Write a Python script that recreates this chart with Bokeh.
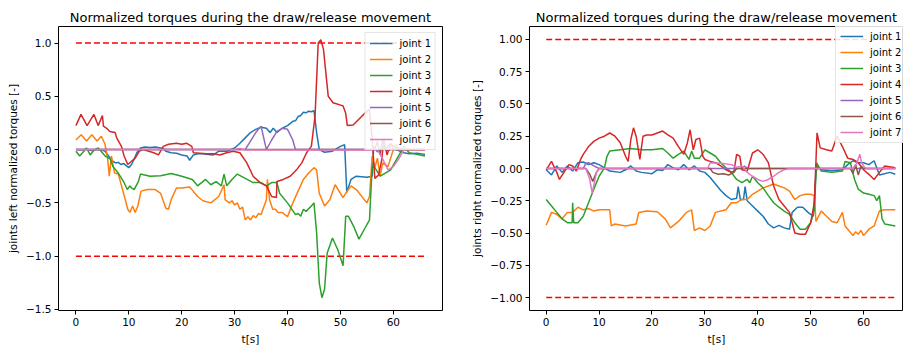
from bokeh.plotting import figure
from bokeh.layouts import row
from bokeh.models import ColumnDataSource, FixedTicker, Range1d, Legend, LegendItem
from bokeh.embed import file_html
from bokeh.resources import INLINE

# ---------------- data: (time [s], normalized torque) ----------------
# left arm
left_j1 = [(0, 0), (1, -0.005), (2, 0.005), (3, -0.01), (4, 0.0), (5, -0.005), (5.5, -0.015), (6.5, -0.08),
           (7.0, -0.11), (7.5, -0.125), (8.0, -0.12), (8.5, -0.14), (9.0, -0.13), (9.5, -0.15), (10.0, -0.17),
           (10.5, -0.14), (11.0, -0.09), (11.5, -0.03), (12.2, 0.015), (13, 0.025), (14, 0.02), (15, 0.025),
           (16, 0.015), (16.5, 0.01), (17, -0.015), (18, -0.03), (19, -0.035), (20, -0.05), (21, -0.06),
           (21.5, -0.1), (22.2, -0.05), (23, -0.04), (24, -0.04), (25, -0.045), (26, -0.05), (27, -0.015),
           (28.5, -0.015), (30, 0.015), (31, 0.06), (32, 0.11), (33, 0.16), (34, 0.19), (35, 0.21), (36, 0.2),
           (36.7, 0.16), (37.3, 0.2), (38, 0.16), (39, 0.2), (40, 0.225), (41, 0.265), (41.5, 0.27), (42, 0.31),
           (42.5, 0.32), (43, 0.35), (43.5, 0.345), (44, 0.36), (44.5, 0.355), (45, 0.365), (45.5, 0.16),
           (46, 0.0), (47, -0.025), (48.5, -0.015), (50, 0.03), (50.8, 0.045), (51.2, -0.4), (52, -0.28),
           (53, -0.25), (55, -0.26), (56, -0.25), (56.3, 0.03), (57, -0.02), (58, 0.02), (59, -0.01),
           (60, 0.01), (61, -0.01), (62, -0.03), (63, -0.04), (64.5, -0.035), (66, -0.045)]
left_j2 = [(0, 0.09), (1, 0.14), (2, 0.08), (3, 0.14), (4, 0.08), (4.8, 0.125), (5.5, 0.05), (6, -0.09),
           (6.3, -0.25), (6.7, -0.06), (7.3, -0.22), (8, -0.23), (9, -0.41), (9.8, -0.56), (10.2, -0.59),
           (10.7, -0.53), (11.2, -0.59), (11.7, -0.53), (12.3, -0.39), (13.5, -0.375), (15, -0.375),
           (16, -0.41), (17, -0.55), (17.5, -0.56), (18, -0.47), (19, -0.36), (20, -0.36), (21.5, -0.35),
           (23, -0.44), (24, -0.48), (25.5, -0.5), (27, -0.44), (28, -0.33), (28.2, -0.47), (29, -0.5),
           (29.5, -0.48), (30, -0.52), (30.5, -0.5), (31, -0.56), (31.5, -0.54), (32, -0.66), (32.5, -0.63),
           (33, -0.66), (33.5, -0.62), (34, -0.64), (34.5, -0.6), (35, -0.61), (36, -0.47), (36.2, -0.28),
           (36.6, -0.47), (37.2, -0.56), (37.7, -0.56), (38.2, -0.59), (39, -0.59), (40, -0.63), (41, -0.5),
           (42, -0.39), (43, -0.28), (44, -0.22), (45, -0.17), (45.5, -0.19), (46, -0.41), (47, -0.53),
           (48, -0.47), (49, -0.33), (50.5, -0.45), (51, -0.41), (52, -0.34), (53, -0.375), (55, -0.5),
           (55.5, -0.44), (56, -0.06), (56.5, -0.17), (57, -0.08), (57.5, -0.25), (58, -0.125), (59, -0.16),
           (60, 0.0), (60.5, 0.05), (61, 0.0), (63, 0.0), (66, 0.0)]
left_j3 = [(0, -0.015), (0.7, -0.06), (1.5, -0.015), (2, 0.015), (2.7, -0.05), (3.5, 0.0), (4.2, 0.015),
           (5, -0.03), (5.5, -0.06), (6.5, -0.09), (7, -0.16), (8, -0.22), (9, -0.3), (9.7, -0.375),
           (10.2, -0.34), (10.5, -0.36), (11, -0.375), (11.8, -0.3), (12.2, -0.23), (14, -0.25), (16, -0.245),
           (18, -0.225), (20, -0.25), (22, -0.28), (23, -0.34), (24.5, -0.28), (25.5, -0.33), (26.5, -0.3),
           (27.5, -0.34), (28, -0.23), (28.5, -0.34), (29.5, -0.28), (30.5, -0.23), (32, -0.27), (33.5, -0.31),
           (35, -0.31), (36, -0.34), (37, -0.31), (38, -0.31), (38.5, -0.41), (40, -0.5), (41.5, -0.61),
           (42, -0.6), (42.5, -0.625), (43, -0.56), (43.5, -0.58), (44.5, -0.53), (45, -0.5), (45.5, -0.78),
           (46, -1.25), (46.5, -1.39), (47, -1.31), (47.5, -0.97), (48.5, -0.83), (49.5, -0.94), (50.5, -1.09),
           (51, -0.625), (51.5, -0.625), (52.5, -0.72), (53.5, -0.84), (54.5, -0.75), (55.5, -0.66),
           (56, -0.16), (56.5, -0.17), (57.5, -0.25), (58.5, -0.22), (59.5, -0.19), (61, -0.06), (62, 0.03),
           (63, -0.03), (66, -0.06)]
left_j4 = [(0, 0.225), (0.95, 0.33), (2.1, 0.225), (3.4, 0.33), (4.2, 0.225), (5.0, 0.32), (5.2, 0.22),
           (5.8, 0.2), (6.4, 0.17), (7.4, 0.16), (7.7, 0.11), (8.6, 0.03), (9.1, -0.06), (9.8, -0.14),
           (10.5, -0.11), (11.2, -0.08), (12.0, -0.015), (12.7, 0.0), (14.7, -0.03), (15.6, -0.05),
           (16.5, 0.03), (17.5, 0.05), (19.0, 0.06), (20.0, 0.05), (20.9, 0.06), (21.9, 0.03), (22.2, -0.03),
           (24.7, -0.04), (26, -0.04), (27.2, -0.05), (28.5, -0.03), (29.7, -0.015), (31, -0.03),
           (32.3, -0.125), (33.5, -0.25), (34.8, -0.31), (36, -0.34), (37, -0.44), (37.9, -0.45), (38, -0.3),
           (39.2, -0.28), (40.5, -0.25), (41.7, -0.19), (42.7, -0.125), (43.6, -0.03), (44.5, 0.03),
           (45.2, 0.31), (45.8, 1.0), (46.3, 1.03), (46.8, 0.94), (47.7, 0.5), (48.6, 0.44), (50.5, 0.41),
           (51, 0.34), (51.3, 0.225), (52.4, 0.23), (54, 0.31), (54.6, 0.34), (55.5, 0.38), (56.0, 0.1),
           (56.5, -0.27), (57.2, -0.24), (57.8, -0.1), (58.2, 0.1), (58.8, -0.05), (59.5, 0.05), (60.5, 0.02),
           (62, 0.0), (66, 0.0)]
left_j5 = [(0, 0.0), (32, 0.0), (33, 0.08), (34, 0.16), (35, 0.22), (36, 0.0), (37, 0.09), (38, 0.17),
           (39, 0.2), (40, 0.19), (41, 0.09), (41.5, 0.0), (66, 0.0)]
left_j6 = [(0, 0.0), (56.5, 0.0), (57, 0.08), (57.5, -0.05), (58, 0.1), (58.5, 0.0), (59.5, 0.06),
           (60, 0.0), (66, 0.0)]
left_j7 = [(0, 0.0), (30, 0.0), (31, 0.01), (32, -0.003), (45, -0.005), (55, -0.003), (57, 0.0),
           (58, -0.09), (59, -0.19), (60, -0.16), (61, -0.09), (62, 0.0), (66, 0.0)]

# right arm
right_j1 = [(0, -0.01), (1, -0.05), (2, 0.02), (3, -0.03), (4, 0.02), (5, -0.02), (6, 0.045), (7, 0.05),
            (8, 0.03), (9, 0.045), (10, 0.03), (11, 0.005), (12, -0.02), (14, -0.03), (15, -0.01), (16, 0.02),
            (17, -0.02), (18, -0.03), (20, -0.04), (21, -0.01), (22, -0.015), (23, 0.03), (24, 0.005),
            (25, -0.01), (26, 0.03), (27, -0.01), (28, 0.02), (29, -0.02), (30, -0.03), (31, -0.07),
            (32, -0.12), (33, -0.17), (34, -0.21), (35, -0.24), (36, -0.23), (36.3, -0.14), (36.7, -0.24),
            (37.3, -0.24), (37.6, -0.14), (38, -0.25), (39, -0.29), (40, -0.33), (41, -0.37), (42, -0.43),
            (43, -0.46), (44, -0.44), (45, -0.46), (46, -0.47), (46.5, -0.34), (47.5, -0.3), (48.5, -0.3),
            (49.5, -0.34), (50.5, -0.37), (51, -0.03), (51.3, 0.02), (52, -0.01), (54, -0.02), (56, -0.01),
            (57, 0.03), (58, 0.06), (59, 0.045), (60, 0.045), (61, 0.03), (62, 0.06), (63, -0.05),
            (65, -0.03), (66, -0.045)]
right_j2 = [(0, -0.44), (1, -0.34), (2, -0.355), (3, -0.39), (4, -0.34), (5, -0.34), (6, -0.3), (7, -0.32),
            (8, -0.31), (9, -0.33), (10, -0.32), (11, -0.32), (12, -0.32), (12.3, -0.445), (13, -0.43),
            (15, -0.445), (17, -0.43), (17.5, -0.34), (19, -0.33), (21, -0.335), (22.5, -0.39), (23.5, -0.46),
            (25, -0.41), (26.5, -0.34), (27.5, -0.32), (28, -0.48), (29, -0.46), (30, -0.48), (31, -0.445),
            (32, -0.34), (33, -0.33), (34, -0.32), (35, -0.265), (36, -0.265), (37, -0.24), (38, -0.24),
            (39, -0.2), (40, -0.175), (41, -0.15), (42, -0.136), (43, -0.12), (44, -0.136), (45, -0.15),
            (46, -0.175), (47, -0.24), (48, -0.21), (49, -0.2), (50, -0.2), (50.7, -0.21), (51, -0.41),
            (52, -0.33), (53, -0.37), (54, -0.41), (55, -0.42), (56, -0.34), (56.5, -0.445), (57, -0.47),
            (58, -0.52), (58.5, -0.49), (59, -0.51), (59.5, -0.48), (60, -0.52), (61, -0.47), (62, -0.445),
            (63, -0.33), (64, -0.32), (66, -0.32)]
right_j3 = [(0, -0.24), (1, -0.29), (2, -0.34), (3, -0.39), (4, -0.42), (4.9, -0.42), (5.0, -0.265),
            (5.2, -0.42), (6, -0.42), (7, -0.37), (8, -0.265), (9, -0.16), (10, -0.06), (11, 0.005),
            (11.5, 0.095), (12, 0.135), (14, 0.145), (16, 0.155), (18, 0.145), (20, 0.145), (22, 0.155),
            (23, 0.12), (24, 0.08), (25, 0.11), (26, 0.135), (27, 0.07), (27.5, 0.135), (28, 0.08), (29, 0.08),
            (30, 0.145), (31, 0.12), (32, 0.095), (33, 0.045), (34, 0.005), (35, -0.03), (36, -0.085),
            (37, -0.11), (38, -0.085), (38.5, -0.11), (39, -0.06), (40, -0.11), (41, -0.15), (42, -0.21),
            (43, -0.265), (44, -0.3), (45, -0.33), (46, -0.355), (47, -0.42), (48, -0.47), (49, -0.47),
            (50, -0.42), (50.7, -0.32), (51.1, 0.045), (52, -0.02), (54, -0.03), (56, -0.02), (56.5, 0.055),
            (57.5, 0.045), (58.3, -0.085), (59, -0.16), (60, -0.19), (61, -0.2), (62, -0.21), (62.5, -0.25),
            (63, -0.21), (63.5, -0.39), (64, -0.43), (66, -0.445)]
right_j4 = [(0, -0.01), (1, 0.055), (2, -0.03), (2.5, -0.085), (3.5, -0.02), (4.3, 0.03), (5, 0.02),
            (5.7, -0.02), (6.5, 0.07), (7, 0.11), (8, 0.17), (9, 0.21), (10, 0.235), (11, 0.25), (12, 0.275),
            (13, 0.25), (14, 0.2), (15, 0.095), (15.5, 0.055), (16, 0.225), (16.5, 0.315), (17, 0.25),
            (17.7, 0.07), (18.3, 0.25), (19, 0.26), (20, 0.26), (21, 0.275), (22, 0.29), (23, 0.26),
            (24, 0.235), (25, 0.17), (26, 0.11), (26.7, 0.2), (27.2, 0.3), (27.8, 0.145), (28.3, 0.225),
            (29, 0.235), (29.6, 0.095), (30, 0.07), (31, 0.055), (32, 0.045), (33, 0.02), (34, -0.01),
            (35, -0.03), (35.5, -0.02), (36, 0.11), (36.6, 0.095), (37, -0.01), (38, -0.02), (39, 0.12),
            (40, 0.145), (41, 0.11), (42, 0.045), (43, -0.136), (44, -0.24), (45, -0.29), (46, -0.34),
            (47, -0.5), (48, -0.51), (49, -0.51), (50, -0.42), (50.7, -0.265), (51.2, 0.275), (51.8, 0.16),
            (53, 0.145), (54, 0.135), (55, 0.25), (56, 0.17), (57, 0.08), (58, 0.07), (59, 0.045), (60, -0.01),
            (61, -0.045), (62, -0.085), (63, -0.03), (64, 0.02), (66, 0.005)]
right_j5 = [(0, 0.0), (7, 0.0), (7.5, 0.04), (8, 0.045), (9, 0.02), (10, 0.0), (37, 0.0), (37.5, 0.02),
            (38, 0.0), (66, 0.0)]
right_j6 = [(0, 0.0), (7.5, 0.0), (8.3, -0.05), (8.8, -0.1), (9.5, -0.03), (10, 0.0), (31, 0.0),
            (31.5, -0.03), (32.5, -0.045), (33.5, -0.04), (34.5, -0.05), (35.5, -0.03), (36, 0.0),
            (57.5, 0.0), (58, -0.04), (58.5, 0.03), (59, -0.05), (59.5, 0.02), (60, 0.0), (66, 0.0)]
right_j7 = [(0, 0.0), (7.5, 0.0), (8.2, -0.08), (8.7, -0.19), (9.2, -0.09), (9.5, -0.03), (10, 0.0),
            (30.5, 0.0), (31, 0.045), (33, 0.04), (35, 0.03), (36, 0.01), (37, 0.02), (38, -0.03),
            (39, -0.06), (40, -0.085), (41, -0.1), (42, -0.085), (43, -0.06), (44, -0.03), (45, -0.01),
            (46, 0.0), (58, 0.0), (58.7, 0.04), (59.3, 0.11), (59.6, 0.05), (60, 0.02), (60.5, 0.0), (66, 0.0)]

LIMIT = [1.0, -1.0]
LIMIT_T = [0, 66]
JOINT_LABELS = ["joint 1", "joint 2", "joint 3", "joint 4", "joint 5", "joint 6", "joint 7"]
COLORS = ["#1f77b4", "#ff7f0e", "#2ca02c", "#d62728", "#9467bd", "#8c564b", "#e377c2"]
X_TICKS = [0, 10, 20, 30, 40, 50, 60]
LEFT_Y_TICKS = [1.0, 0.5, 0.0, -0.5, -1.0, -1.5]
RIGHT_Y_TICKS = [1.0, 0.75, 0.5, 0.25, 0.0, -0.25, -0.5, -0.75, -1.0]

FONT = "DejaVu Sans"
TITLE = "Normalized torques during the draw/release movement"


def fmt(v, digits):
    s = f"{abs(v):.{digits}f}"
    return ("\u2212" + s) if v < 0 else s


def make_panel(series, ylabel, yticks, digits, width, x_range, y_range, border_left, border_right, legend_loc):
    p = figure(width=width, height=347, output_backend="svg", toolbar_location=None,
               x_range=Range1d(*x_range), y_range=Range1d(*y_range),
               min_border_left=border_left, min_border_right=border_right,
               min_border_top=26, min_border_bottom=35, background_fill_color="white",
               border_fill_color="white")
    p.title.text = TITLE
    p.title.align = "center"
    p.title.text_font = FONT
    p.title.text_font_size = "13px"
    p.title.text_font_style = "normal"
    p.title.text_color = "#000000"
    p.title.standoff = 3

    p.grid.visible = False
    p.outline_line_color = "#000000"
    p.outline_line_width = 1
    p.outline_line_alpha = 1.0

    for ax in (p.xaxis[0], p.yaxis[0]):
        ax.axis_line_color = None
        ax.major_tick_out = 4
        ax.major_tick_in = 0
        ax.minor_tick_line_color = None
        ax.major_tick_line_color = "#000000"
        ax.major_label_text_font = FONT
        ax.major_label_text_font_size = "10.5px"
        ax.major_label_text_color = "#000000"
        ax.axis_label_text_font = FONT
        ax.axis_label_text_font_size = "10.5px"
        ax.axis_label_text_font_style = "normal"
        ax.axis_label_text_color = "#000000"
        ax.major_label_standoff = 3
        ax.axis_label_standoff = 4

    p.xaxis.ticker = FixedTicker(ticks=X_TICKS)
    p.xaxis.axis_label = "t[s]"
    p.yaxis.ticker = FixedTicker(ticks=yticks)
    p.yaxis.major_label_overrides = {v: fmt(v, digits) for v in yticks}
    p.yaxis.axis_label = ylabel

    # torque limits
    for lim in LIMIT:
        p.line(LIMIT_T, [lim, lim], line_color="#ff0000", line_width=1.5, line_dash="6 3")

    items = []
    for data, label, color in zip(series, JOINT_LABELS, COLORS):
        src = ColumnDataSource(data=dict(t=[d[0] for d in data], v=[d[1] for d in data]))
        r = p.line("t", "v", source=src, line_color=color, line_width=1.5)
        items.append(LegendItem(label=label, renderers=[r]))

    legend = Legend(items=items, location=legend_loc,
                    label_text_font=FONT, label_text_font_size="10px", label_text_color="#000000",
                    glyph_width=23, glyph_height=12, label_height=12, label_standoff=7,
                    spacing=4, padding=4, margin=6,
                    border_line_color="#cccccc", border_line_width=1,
                    background_fill_color="white", background_fill_alpha=0.85)
    p.add_layout(legend)
    return p


left = make_panel([left_j1, left_j2, left_j3, left_j4, left_j5, left_j6, left_j7],
                  "joints left normalized torques [-]", LEFT_Y_TICKS, 1, 453,
                  (-3.3, 69.3), (-1.51, 1.155), 58, 11, "top_right")
right = make_panel([right_j1, right_j2, right_j3, right_j4, right_j5, right_j6, right_j7],
                   "joints right normalized torques [-]", RIGHT_Y_TICKS, 2, 450,
                   (-3.16, 67.55), (-1.10, 1.10), 76, 0, (306, 167))

layout = row(left, right)
open("out.html", "w").write(file_html(layout, INLINE))
